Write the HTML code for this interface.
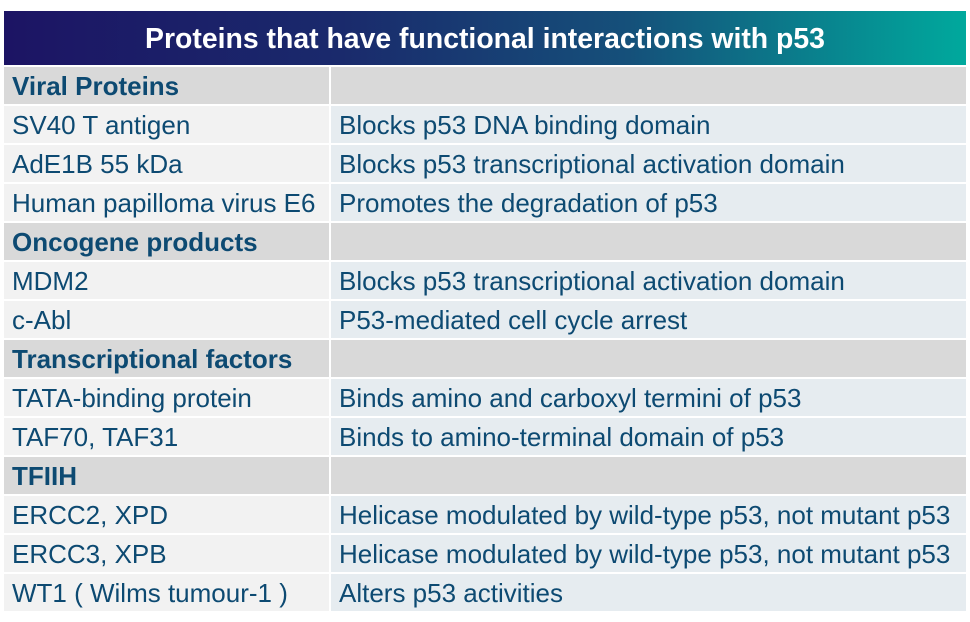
<!DOCTYPE html>
<html><head><style>
body{margin:0;width:970px;height:622px;background:#fff;font-family:"Liberation Sans",sans-serif;position:relative;overflow:hidden}
.hdr{position:absolute;left:4px;top:11px;width:962px;height:54px;background:linear-gradient(90deg,#1c1464 0%,#1a2a6c 35%,#15507a 65%,#00a99d 100%);color:#fff;font-weight:bold;font-size:28.4px;line-height:56px;text-align:center}
.row{position:absolute;left:4px;width:962px;height:37px}
.c{position:absolute;top:0;height:37px;line-height:38px;font-size:26px;color:#0d4a72;padding-left:8px;box-sizing:border-box;white-space:nowrap}
.l{left:0;width:325px;background:#f2f2f2}
.r{left:327px;width:635px;background:#e6ecf0}
.sec .c{background:#d9d9d9;font-weight:bold;font-size:26px}
</style></head><body>
<div class="hdr">Proteins that have functional interactions with p53</div>
<div id="t"></div>
<script>
const rows=[
["Viral Proteins","",1],
["SV40 T antigen","Blocks p53 DNA binding domain",0],
["AdE1B 55 kDa","Blocks p53 transcriptional activation domain",0],
["Human papilloma virus E6","Promotes the degradation of p53",0],
["Oncogene products","",1],
["MDM2","Blocks p53 transcriptional activation domain",0],
["c-Abl","P53-mediated cell cycle arrest",0],
["Transcriptional factors","",1],
["TATA-binding protein","Binds amino and carboxyl termini of p53",0],
["TAF70, TAF31","Binds to amino-terminal domain of p53",0],
["TFIIH","",1],
["ERCC2, XPD","Helicase modulated by wild-type p53, not mutant p53",0],
["ERCC3, XPB","Helicase modulated by wild-type p53, not mutant p53",0],
["WT1 ( Wilms tumour-1 )","Alters p53 activities",0]];
const t=document.getElementById('t');
rows.forEach((r,i)=>{
 const d=document.createElement('div');
 d.className='row'+(r[2]?' sec':'');
 d.style.top=(67+i*39)+'px';
 
 
 const a=document.createElement('div');a.className='c l';a.textContent=r[0];
 
 
 const b=document.createElement('div');b.className='c r';b.textContent=r[1];
 
 
 d.appendChild(a);d.appendChild(b);t.appendChild(d);
});
</script>
</body></html>
